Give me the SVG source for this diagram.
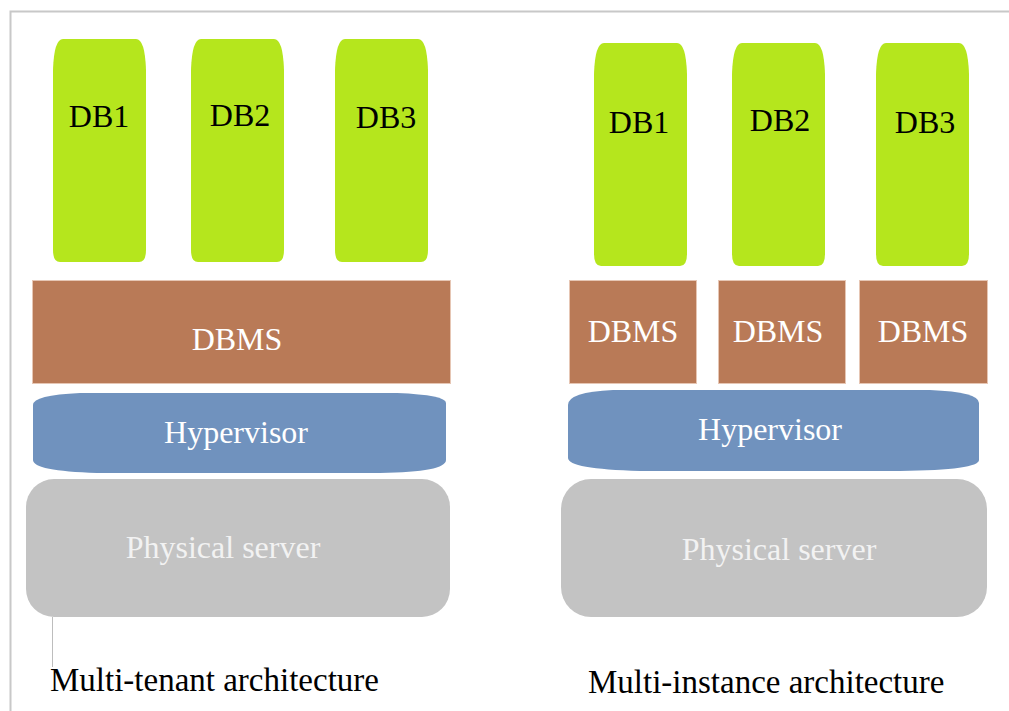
<svg xmlns="http://www.w3.org/2000/svg" width="1009" height="711" viewBox="0 0 1009 711">
<style>
.db{fill:#b5e61d}
.dbms{fill:#b97a57;stroke:#e6c6b4;stroke-width:1}
.hv{fill:#7092be}
.ps{fill:#c3c3c3}
text{font-family:"Liberation Serif","Times New Roman",serif;font-size:32px;text-anchor:middle}
.dk{fill:#000}
.lt{fill:#ffffff}
.ps-t{fill:#f2f2f2}
.lbl{font-size:33px;text-anchor:start;fill:#000}
</style>
<defs>
<path id="dbShape" d="M0,31 Q1,0 10,0 L83,0 Q92,0 93,31 L93,211 Q93,223 86,223 L7,223 Q0,223 0,211 Z"/>
</defs>
<rect width="1009" height="711" fill="#ffffff"/>
<g id="frame">
<path d="M10.5,711 L10.5,11.5 L1009,11.5" fill="none" stroke="#c8c8c8" stroke-width="2"/>
</g>

<g id="left-db1"><use href="#dbShape" class="db" x="53" y="39"/><text class="dk" x="99" y="127">DB1</text></g>
<g id="left-db2"><use href="#dbShape" class="db" x="191" y="39"/><text class="dk" x="240" y="126">DB2</text></g>
<g id="left-db3"><use href="#dbShape" class="db" x="335" y="39"/><text class="dk" x="386" y="128">DB3</text></g>
<g id="left-dbms"><rect class="dbms" x="32.5" y="280.5" width="418" height="103"/><text class="lt" x="237" y="350">DBMS</text></g>
<g id="left-hypervisor"><path class="hv" d="M33,405 Q33,395 80,393 L397,393 Q446,395 446,403 L446,460 Q446,472 380,473 L97,473 Q33,471 33,460 Z"/><text class="lt" x="236" y="443">Hypervisor</text></g>
<g id="left-server"><rect class="ps" x="26" y="479" width="424" height="138" rx="28" ry="28"/><text class="ps-t" x="223" y="558">Physical server</text></g>

<g id="right-db1"><use href="#dbShape" class="db" x="594" y="43"/><text class="dk" x="639" y="133">DB1</text></g>
<g id="right-db2"><use href="#dbShape" class="db" x="732" y="43"/><text class="dk" x="780" y="131">DB2</text></g>
<g id="right-db3"><use href="#dbShape" class="db" x="876" y="43"/><text class="dk" x="925" y="133">DB3</text></g>
<g id="right-dbms1"><rect class="dbms" x="569.5" y="280.5" width="127" height="103"/><text class="lt" x="633" y="342">DBMS</text></g>
<g id="right-dbms2"><rect class="dbms" x="718.5" y="280.5" width="127" height="103"/><text class="lt" x="778" y="342">DBMS</text></g>
<g id="right-dbms3"><rect class="dbms" x="859.5" y="280.5" width="128" height="103"/><text class="lt" x="923" y="342">DBMS</text></g>
<g id="right-hypervisor"><path class="hv" d="M568,405 Q568,392 613,390 L930,390 Q979,392 979,403 L979,460 Q979,470 900,471 L640,471 Q568,469 568,458 Z"/><text class="lt" x="770" y="440">Hypervisor</text></g>
<g id="right-server"><rect class="ps" x="561" y="479" width="426" height="138" rx="30" ry="30"/><text class="ps-t" x="779" y="560">Physical server</text></g>

<g id="connectors">
<line x1="52.5" y1="617" x2="52.5" y2="667" stroke="#bdbdbd" stroke-width="1"/>
</g>
<g id="labels">
<text class="lbl" x="50" y="691">Multi-tenant architecture</text>
<text class="lbl" x="588" y="693">Multi-instance architecture</text>
</g>
</svg>
